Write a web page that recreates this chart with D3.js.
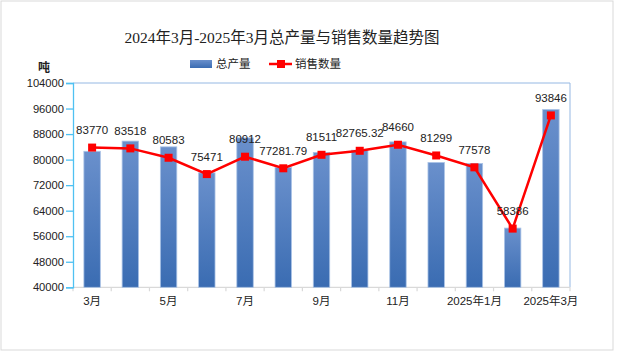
<!DOCTYPE html>
<html><head><meta charset="utf-8">
<script src="https://cdn.jsdelivr.net/npm/d3@7"></script>
<style>body{margin:0;background:#fff}svg{display:block}</style>
</head><body>
<svg id="c" width="617" height="352"></svg>
<script>
const categories = ["3月","4月","5月","6月","7月","8月","9月","10月","11月","12月","2025年1月","2月","2025年3月"];
const tickLabels = ["3月","","5月","","7月","","9月","","11月","","2025年1月","","2025年3月"];
const production = [82600, 85800, 84000, 75850, 86800, 77550, 82250, 82950, 85550, 79100, 78800, 58550, 95700];
const sales = [83770, 83518, 80583, 75471, 80912, 77281.79, 81511, 82765.32, 84660, 81299, 77578, 58386, 93846];
const salesLabels = ["83770","83518","80583","75471","80912","77281.79","81511","82765.32","84660","81299","77578","58386","93846"];
const yTicks = [40000,48000,56000,64000,72000,80000,88000,96000,104000];

const svg = d3.select("#c");
const L = 73, R = 570, T = 83, B = 287.3;
const sans = "'Liberation Sans','Noto Sans CJK SC',sans-serif";

svg.append("rect").attr("x",1).attr("y",1).attr("width",612).attr("height",349)
  .attr("fill","#fff").attr("stroke","#d9d9d9").attr("stroke-width",1);

const defs = svg.append("defs");
const g = defs.append("linearGradient").attr("id","bg").attr("x1",0).attr("y1",0).attr("x2",0).attr("y2",1);
g.append("stop").attr("offset","0%").attr("stop-color","#6a90cc");
g.append("stop").attr("offset","100%").attr("stop-color","#3a6cb2");

const x = d3.scaleBand().domain(categories).range([L,R]).padding(0);
const y = d3.scaleLinear().domain([40000,104000]).range([B,T]);
const bw = x.bandwidth()*0.43;

// title
svg.append("text").attr("x",282).attr("y",43).attr("text-anchor","middle")
  .attr("font-family","'Liberation Serif','Noto Sans CJK SC',serif").attr("font-size",15.5)
  .attr("fill","#222").text("2024年3月-2025年3月总产量与销售数量趋势图");

// unit
svg.append("text").attr("x",44).attr("y",72).attr("text-anchor","middle")
  .attr("font-family",sans).attr("font-size",12).attr("font-weight","bold").attr("fill","#222").text("吨");

// legend
svg.append("rect").attr("x",190).attr("y",60).attr("width",22).attr("height",8).attr("fill","url(#bg)");
svg.append("text").attr("x",216).attr("y",68).attr("font-family",sans).attr("font-size",11.5).attr("fill","#222").text("总产量");
svg.append("line").attr("x1",269).attr("x2",292).attr("y1",64).attr("y2",64).attr("stroke","#ff0000").attr("stroke-width",2.5);
svg.append("rect").attr("x",277).attr("y",60).attr("width",8).attr("height",8).attr("fill","#ff0000");
svg.append("text").attr("x",295).attr("y",68).attr("font-family",sans).attr("font-size",11.5).attr("fill","#222").text("销售数量");

// plot border top/right
svg.append("path").attr("d",`M${L},${T}H${R}V${B}`).attr("fill","none").attr("stroke","#95b8e3").attr("stroke-width",1);

// bottom axis
const xa = svg.append("g").attr("transform",`translate(0,${B})`);
xa.append("line").attr("x1",L).attr("x2",R).attr("stroke","#d9d9d9").attr("stroke-width",1.2);
xa.selectAll("line.t").data(d3.range(categories.length+1)).join("line").attr("class","t")
  .attr("x1",i=>L+i*x.step()).attr("x2",i=>L+i*x.step()).attr("y1",0).attr("y2",4)
  .attr("stroke","#d9d9d9").attr("stroke-width",1.2);
xa.selectAll("text").data(categories).join("text")
  .attr("x",d=>x(d)+x.bandwidth()/2).attr("y",18).attr("text-anchor","middle")
  .attr("font-family",sans).attr("font-size",11.5).attr("fill","#222")
  .text((d,i)=>tickLabels[i]);

// left axis
const ya = svg.append("g").attr("transform",`translate(${L},0)`)
  .call(d3.axisLeft(y).tickValues(yTicks).tickSize(7).tickPadding(2).tickFormat(d3.format("d")));
ya.select(".domain").attr("stroke","#4fc1f2").attr("stroke-width",1.3);
ya.selectAll(".tick line").attr("stroke","#4fc1f2").attr("stroke-width",1.3);
ya.selectAll(".tick text").attr("font-family",sans).attr("font-size",11.2).attr("fill","#222");

// bars
svg.append("g").selectAll("rect").data(production).join("rect")
  .attr("x",(d,i)=>x(categories[i])+x.bandwidth()/2-bw/2).attr("width",bw)
  .attr("y",d=>y(d)).attr("height",d=>B-y(d))
  .attr("fill","url(#bg)").attr("stroke","#aac3e6").attr("stroke-width",0.8);

// line
const line = d3.line().x((d,i)=>x(categories[i])+x.bandwidth()/2).y(d=>y(d));
svg.append("path").datum(sales).attr("d",line).attr("fill","none").attr("stroke","#ff0000").attr("stroke-width",2.5);
svg.append("g").selectAll("rect").data(sales).join("rect")
  .attr("x",(d,i)=>x(categories[i])+x.bandwidth()/2-4).attr("y",d=>y(d)-4)
  .attr("width",8).attr("height",8).attr("fill","#ff0000");

// labels
svg.append("g").selectAll("text").data(sales).join("text")
  .attr("x",(d,i)=>x(categories[i])+x.bandwidth()/2).attr("y",d=>y(d)-13.5)
  .attr("text-anchor","middle").attr("font-family",sans).attr("font-size",11.5).attr("fill","#222")
  .text((d,i)=>salesLabels[i]);
</script>
</body></html>
